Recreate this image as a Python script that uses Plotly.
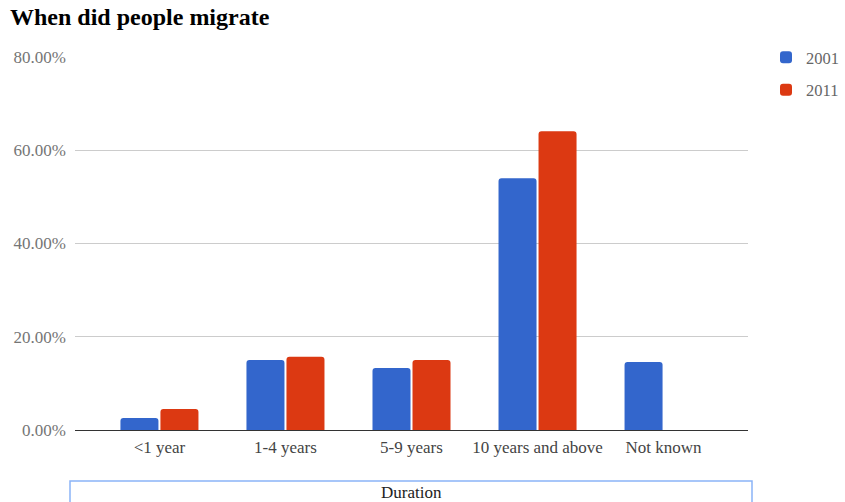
import plotly.graph_objects as go

categories = ["<1 year", "1-4 years", "5-9 years", "10 years and above", "Not known"]
values_2001 = [2.6, 15.0, 13.3, 54.0, 14.6]
values_2011 = [4.5, 15.7, 15.0, 64.1, None]
y_ticks = [0, 20, 40, 60, 80]

FONT = "Liberation Serif"
W, H = 845, 502
L, R, T, B = 75, 97, 57, 72

fig = go.Figure()
fig.add_trace(go.Bar(name="2001", x=categories, y=values_2001,
                     marker=dict(color="#3366cc", line=dict(width=0)),
                     legendgroup="a"))
fig.add_trace(go.Bar(name="2011", x=categories, y=values_2011,
                     marker=dict(color="#dc3912", line=dict(width=0)),
                     legendgroup="b"))

fig.update_layout(
    width=W, height=H,
    margin=dict(l=L, r=R, t=T, b=B, pad=0, autoexpand=False),
    paper_bgcolor="white", plot_bgcolor="white",
    font=dict(family=FONT, size=17, color="#444"),
    title=dict(text="<b>When did people migrate</b>", x=0, xref="container",
               xanchor="left", y=1, yref="container", yanchor="top",
               pad=dict(t=8, l=10),
               font=dict(family=FONT, size=24, color="#000")),
    barmode="group", bargap=0.365, bargroupgap=0.05, barcornerradius=3,
    legend=dict(x=766 / W, xref="container", xanchor="left",
                y=1 - 40 / H, yref="container", yanchor="top",
                font=dict(family=FONT, size=16.5, color="#666"),
                tracegroupgap=8, itemwidth=30, bgcolor="rgba(0,0,0,0)"),
    xaxis=dict(type="category", range=[-0.67, 4.67], showgrid=False,
               showline=True, linecolor="#333", linewidth=1,
               ticks="", ticklabelstandoff=2,
               tickfont=dict(family=FONT, size=17, color="#444"),
               fixedrange=True),
    yaxis=dict(range=[0, 80], tickvals=y_ticks,
               ticktext=[f"{v:.2f}%" for v in y_ticks],
               showgrid=True, gridcolor="#cccccc", gridwidth=1,
               zeroline=False, showline=False, ticks="",
               ticklabelstandoff=8,
               tickfont=dict(family=FONT, size=17, color="#757575"),
               fixedrange=True),
    showlegend=True,
)

# bordered axis-title box
fig.add_shape(type="rect", xref="paper", yref="paper",
              x0=(70 - L) / (W - L - R), x1=(752 - L) / (W - L - R),
              y0=(H - B - 481) / (H - T - B), y1=(H - B - 505) / (H - T - B),
              line=dict(color="#8ab4f8", width=1.5), fillcolor="rgba(0,0,0,0)")
fig.add_annotation(text="Duration", xref="paper", yref="paper",
                   x=(411 - L) / (W - L - R), y=(H - B - 492) / (H - T - B),
                   showarrow=False, xanchor="center", yanchor="middle",
                   font=dict(family=FONT, size=17, color="#222"))

fig.write_html("out.html")
